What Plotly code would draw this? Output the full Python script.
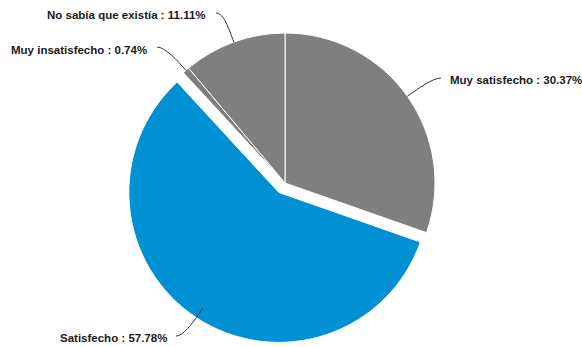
import math
import plotly.graph_objects as go

# Survey satisfaction shares (%)
labels = ["Muy satisfecho", "Satisfecho", "Muy insatisfecho", "No sabía que existía"]
values = [30.37, 57.78, 0.74, 11.11]
colors = ["#7f7f7f", "#0090d4", "#7f7f7f", "#7f7f7f"]
pulls = [0, 0.075, 0, 0]

W, H = 582, 347
CX, CY, R = 285, 183, 150  # pie centre and radius in pixels

# domain that yields the desired centre/radius (plotly: r = min(w,h) / (2 + 2*maxPull))
side = 2 * R * (1 + max(pulls))
dom_x = [(CX - side / 2 - 40) / W, (CX + side / 2 + 40) / W]
dom_y = [1 - (CY + side / 2) / H, 1 - (CY - side / 2) / H]

# label placement: text anchor (px), horizontal side, connector start (px)
label_layout = {
    "Muy satisfecho": dict(pos=(448, 80), anchor="left", start=(441, 78)),
    "Satisfecho": dict(pos=(169, 338), anchor="right", start=(176, 336)),
    "Muy insatisfecho": dict(pos=(149, 50), anchor="right", start=(157, 47)),
    "No sabía que existía": dict(pos=(208, 15), anchor="right", start=(216, 13)),
}


def px(x):
    return x / W


def py(y):
    return 1 - y / H


fig = go.Figure(
    go.Pie(
        labels=labels,
        values=values,
        marker=dict(colors=colors, line=dict(color="#ffffff", width=1)),
        pull=pulls,
        sort=False,
        direction="clockwise",
        rotation=0,
        textinfo="none",
        hoverinfo="label+percent",
        domain=dict(x=dom_x, y=dom_y),
        showlegend=False,
    )
)

total = sum(values)
cum = 0.0
shapes = []
annotations = []
for lab, val in zip(labels, values):
    mid = (cum + val / 2) / total * 2 * math.pi
    cum += val
    ux, uy = math.sin(mid), -math.cos(mid)
    ex, ey = CX + R * ux, CY + R * uy
    cfg = label_layout[lab]
    sx, sy = cfg["start"]
    hdir = 1 if cfg["anchor"] == "right" else -1
    c1x, c1y = sx + hdir * 8, sy
    c2x, c2y = ex + ux * 14, ey + uy * 14
    path = (
        f"M {px(sx)},{py(sy)} C {px(c1x)},{py(c1y)} {px(c2x)},{py(c2y)} {px(ex)},{py(ey)}"
    )
    shapes.append(
        dict(type="path", path=path, xref="paper", yref="paper",
             line=dict(color="#333333", width=1))
    )
    tx, ty = cfg["pos"]
    annotations.append(
        dict(
            text=f"{lab} : {val:.2f}%",
            x=px(tx), y=py(ty), xref="paper", yref="paper",
            xanchor=cfg["anchor"], yanchor="middle",
            showarrow=False,
            font=dict(family="Liberation Sans, Arial, sans-serif", size=11.5,
                      color="#1a1a1a", weight="bold"),
        )
    )

fig.update_layout(
    width=W, height=H,
    margin=dict(l=0, r=0, t=0, b=0),
    paper_bgcolor="#ffffff",
    plot_bgcolor="#ffffff",
    shapes=shapes,
    annotations=annotations,
)

fig.write_html("out.html")
